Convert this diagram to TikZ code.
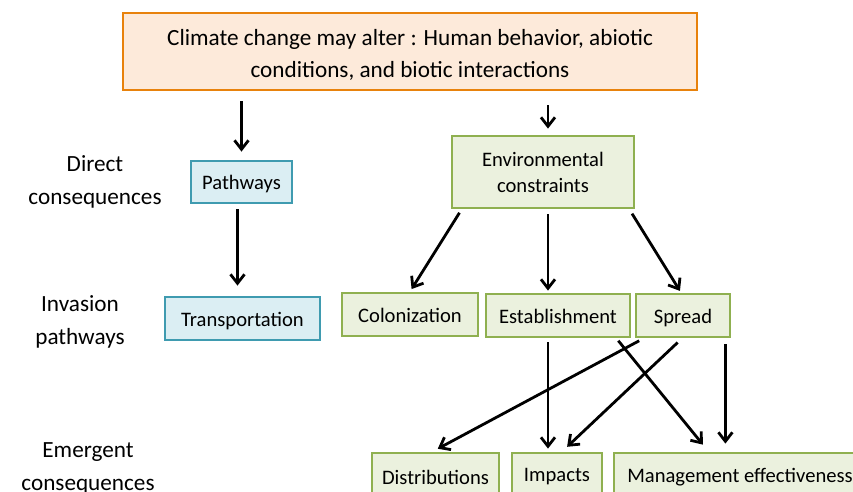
\documentclass[tikz,border=0pt]{standalone}
\usepackage{fontspec}
\setmainfont{Carlito}
\usepackage{tikz}
\usetikzlibrary{arrows.meta}
\definecolor{orange3}{HTML}{E8820C}
\definecolor{peach3}{HTML}{FDEADA}
\definecolor{blue3}{HTML}{3F9BB0}
\definecolor{lightblue3}{HTML}{DBEEF3}
\definecolor{green3}{HTML}{8FB050}
\definecolor{lightgreen3}{HTML}{EBF1DE}

\begin{document}
\begin{tikzpicture}[>={Straight Barb[length=4.5pt,width=7pt]}, x=0.5pt, y=-0.5pt,
    every node/.style={font=\fontsize{10.3}{13}\selectfont},
    topbox/.style={draw=orange3, fill=peach3, line width=1.4pt, align=center, inner sep=0pt},
    bluebox/.style={draw=blue3, fill=lightblue3, line width=1.4pt, align=center, inner sep=0pt},
    greenbox/.style={draw=green3, fill=lightgreen3, line width=1.4pt, align=center, inner sep=0pt},
    oneline/.style={text height=9.7pt, text depth=2.1pt},
    rowlabel/.style={align=center, font=\fontsize{11.6}{16.5}\selectfont},
    arr/.style={->, line width=1.4pt}]

    \useasboundingbox (0,0) rectangle (853,492);
    \clip (0,0) rectangle (853,492);

    % top box
    \node[topbox, minimum width=287pt, minimum height=38.5pt,
          font=\fontsize{11.6}{16}\selectfont] (climate) at (410,51.5)
          {\rule{0pt}{11.7pt}Climate change may alter : Human behavior, abiotic\\conditions, and biotic interactions};

    % row labels on the left
    \node[rowlabel] (lblDirect) at (95,182) {Direct\\consequences};
    \node[rowlabel] (lblInvasion) at (80,322) {Invasion\\pathways};
    \node[rowlabel] (lblEmergent) at (88,468.5) {Emergent\\consequences};

    % direct consequences
    \node[bluebox, oneline, minimum width=50.5pt, minimum height=21pt] (pathways) at (241.5,182) {Pathways};
    \node[greenbox, minimum width=91pt, minimum height=36pt] (envcons) at (543,172) {Environmental\\constraints};

    % invasion pathways
    \node[bluebox, oneline, minimum width=77.5pt, minimum height=21.5pt] (transport) at (242.5,318.5) {Transportation};
    \node[greenbox, oneline, minimum width=68pt, minimum height=21.5pt] (colon) at (410,314.5) {Colonization};
    \node[greenbox, oneline, minimum width=72pt, minimum height=21.5pt] (establ) at (558,315.5) {Establishment};
    \node[greenbox, oneline, minimum width=47pt, minimum height=21.5pt] (spread) at (683,315.5) {Spread};

    % emergent consequences (cut by the lower edge)
    \node[greenbox, minimum width=63.5pt, minimum height=24pt] (distrib) at (435.5,477) {Distributions};
    \node[greenbox, minimum width=45pt, minimum height=24pt] (impacts) at (557,477) {Impacts};
    \node[greenbox, minimum width=126pt, minimum height=24pt] (manage) at (740,477) {Management effectiveness};

    \draw[arr, shorten <=5pt, shorten >=4pt] (climate.south -| pathways) -- (pathways.north);
    \draw[arr, shorten <=7pt, shorten >=3pt] ([xshift=2.5pt]climate.south -| envcons) -- ([xshift=2.5pt]envcons.north);
    \draw[arr, shorten <=2.5pt, shorten >=5pt] ([xshift=-2pt]pathways.south) -- ([xshift=-2pt]pathways.south |- transport.north);

    \draw[arr, shorten <=2pt, shorten >=1.5pt] ([xshift=5.5pt]envcons.south west) -- (colon.north);
    \draw[arr, shorten <=2.5pt, shorten >=1pt] ([xshift=2.5pt]envcons.south) -- ([xshift=2.5pt]envcons.south |- establ.north);
    \draw[arr, shorten <=2.5pt, shorten >=1pt] ([xshift=-3pt]envcons.south east) -- ([xshift=-1pt]spread.north);

    \draw[arr, shorten <=2pt, shorten >=1.5pt] ([xshift=-5pt]establ.south) -- ([xshift=-5pt]establ.south |- impacts.north);
    \draw[arr, shorten <=1.5pt, shorten >=4.5pt] ([xshift=-7.5pt]establ.south east) -- ([xshift=48pt]manage.north west);
    \draw[arr, shorten <=2.5pt, shorten >=3pt] ([xshift=4.5pt]spread.south west) -- ([xshift=-1.5pt]distrib.north);
    \draw[arr, shorten <=3pt, shorten >=3.5pt] ([xshift=-0.5pt]spread.south) -- ([xshift=2.5pt]impacts.north);
    \draw[arr, shorten <=3pt, shorten >=4pt] ([xshift=-3pt]spread.south east) -- ([xshift=-3pt]spread.south east |- manage.north);

\end{tikzpicture}
\end{document}
